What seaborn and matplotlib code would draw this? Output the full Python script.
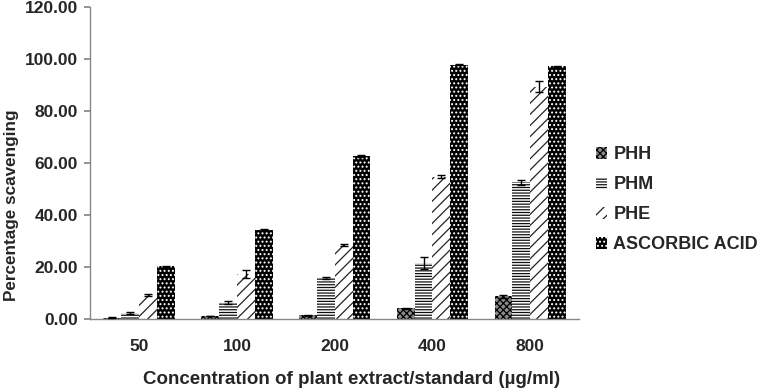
import matplotlib
matplotlib.use("Agg")
import matplotlib.pyplot as plt
import seaborn as sns
import pandas as pd
import numpy as np
from matplotlib.patches import Patch

concentrations = ["50", "100", "200", "400", "800"]
series = ["PHH", "PHM", "PHE", "ASCORBIC ACID"]
phh = [0.6, 1.1, 1.5, 4.1, 8.7]
phm = [2.4, 6.4, 15.9, 21.6, 52.6]
phe = [9.3, 17.3, 28.5, 54.8, 89.4]
asc = [20.3, 34.3, 62.8, 97.9, 97.3]
phh_err = [0.1, 0.1, 0.2, 0.3, 0.4]
phm_err = [0.3, 0.5, 0.3, 2.4, 0.9]
phe_err = [0.4, 1.4, 0.5, 0.5, 2.1]
asc_err = [0.2, 0.2, 0.3, 0.2, 0.2]

values = {"PHH": phh, "PHM": phm, "PHE": phe, "ASCORBIC ACID": asc}
errors = {"PHH": phh_err, "PHM": phm_err, "PHE": phe_err, "ASCORBIC ACID": asc_err}

rows = []
for s in series:
    for c, v, e in zip(concentrations, values[s], errors[s]):
        rows.append({"conc": c, "series": s, "value": v, "err": e})
df = pd.DataFrame(rows)

sns.set_theme(style="white")
plt.rcParams["font.family"] = ["Liberation Sans", "DejaVu Sans"]
plt.rcParams["hatch.linewidth"] = 0.9

fig = plt.figure(figsize=(7.58, 3.92), dpi=100)
ax = fig.add_axes([0.119, 0.186, 0.645, 0.796])

sns.barplot(data=df, x="conc", y="value", hue="series", order=concentrations,
            hue_order=series, ax=ax, width=0.73, errorbar=None, legend=False,
            palette=["white"] * 4, saturation=1)

styles = {
    "PHH": dict(fc="#8a8a8a", ec="black", hatch="xxxxx", lw=0),
    "PHM": dict(fc="white", ec="#111111", hatch="------", lw=0),
    "PHE": dict(fc="white", ec="#222222", hatch="///", lw=0),
    "ASCORBIC ACID": dict(fc="black", ec="white", hatch="....", lw=0),
}

bars = [p for p in ax.patches]
n = len(concentrations)
for i, s in enumerate(series):
    st = styles[s]
    xs, ys, es = [], [], []
    for j in range(n):
        p = bars[i * n + j]
        p.set_facecolor(st["fc"])
        p.set_edgecolor(st["ec"])
        p.set_hatch(st["hatch"])
        p.set_linewidth(st["lw"])
        xs.append(p.get_x() + p.get_width() / 2)
        ys.append(p.get_height())
        es.append(errors[s][j])
    ax.errorbar(xs, ys, yerr=es, fmt="none", ecolor="black", elinewidth=1,
                capsize=3, capthick=1, zorder=5)

fs_tick = 12.5
ax.set_ylim(0, 120)
ax.set_xlim(-0.5, 4.5)
ax.set_yticks(np.arange(0, 121, 20))
ax.set_yticklabels([f"{v:.2f}" for v in np.arange(0, 121, 20)],
                   fontsize=fs_tick, fontweight="bold")
ax.set_xticks(range(n))
ax.set_xticklabels(concentrations, fontsize=fs_tick, fontweight="bold")
ax.set_xticks(np.arange(-0.5, 5, 1), minor=True)
ax.tick_params(axis="x", which="major", length=0, pad=14)
ax.tick_params(axis="x", which="minor", length=5, color="#888888", direction="out")
ax.tick_params(axis="y", which="major", length=4, color="#888888", direction="out",
               left=True, pad=5)
for side in ["top", "right"]:
    ax.spines[side].set_visible(False)
for side in ["left", "bottom"]:
    ax.spines[side].set_color("#888888")
    ax.spines[side].set_linewidth(1)

ax.set_xlabel("Concentration of plant extract/standard (\u00b5g/ml)", fontsize=13.5,
              fontweight="bold")
ax.xaxis.set_label_coords(0.534, -0.167)
ax.set_ylabel("Percentage scavenging", fontsize=12.3, fontweight="bold")
ax.yaxis.set_label_coords(-0.145, 0.365)

handles = [Patch(facecolor=styles[s]["fc"], edgecolor=styles[s]["ec"],
                 hatch=styles[s]["hatch"], linewidth=0) for s in series]
leg = fig.legend(handles, series, loc="center left", bbox_to_anchor=(0.765, 0.49),
                 frameon=False, handlelength=0.6, handleheight=0.6,
                 handletextpad=0.35, labelspacing=0.72,
                 prop={"weight": "bold", "size": 13})

fig.savefig("out.png", dpi=100)
